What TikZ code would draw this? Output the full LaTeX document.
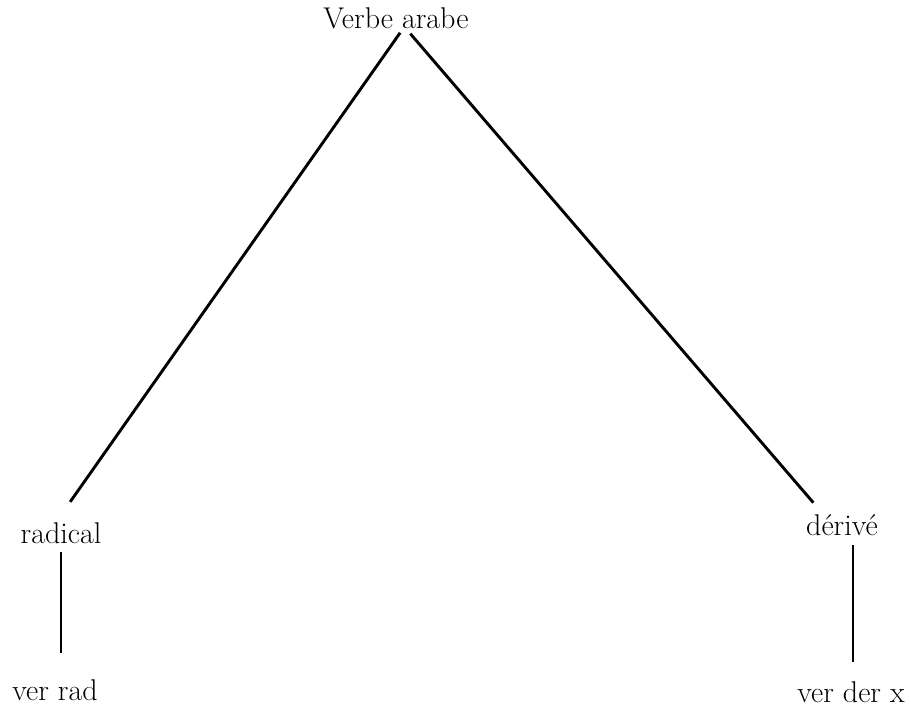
\documentclass[tikz,border=0pt]{standalone}
\usepackage{tikz}
\usetikzlibrary{calc}
\tikzset{
    word/.style={
        anchor=base,
        inner sep=0pt,
        font=\fontsize{30}{36}\selectfont
    },
    branch/.style={
        line width=2.9pt,
        draw=black
    }
}
\begin{document}
\begin{tikzpicture}[x=1pt,y=-1pt]
    \useasboundingbox (0,0) rectangle (911,715);
    \node[word] (verbe) at (396,28) {Verbe arabe};
    \node[word] (radical) at (61,543) {radical};
    \node[word] (derive) at (842,535) {dérivé};
    \node[word] (verrad) at (55,700) {ver rad};
    \node[word] (verderx) at (851,702) {ver der x};

    \draw[branch, shorten <=5pt, shorten >=24.6pt] ([xshift=7pt]verbe.south) -- ([xshift=-5pt]radical.north);
    \draw[branch, shorten <=6.6pt, shorten >=14.8pt] ([xshift=10pt]verbe.south) -- ([xshift=-19pt]derive.north);
    \draw[branch, shorten <=9pt, shorten >=26.2pt] (radical.south) -- (radical.south |- verrad.north);
    \draw[branch, shorten <=10pt, shorten >=19.2pt] ([xshift=11pt]derive.south) -- ([xshift=11pt]derive.south |- verderx.north);
\end{tikzpicture}
\end{document}
